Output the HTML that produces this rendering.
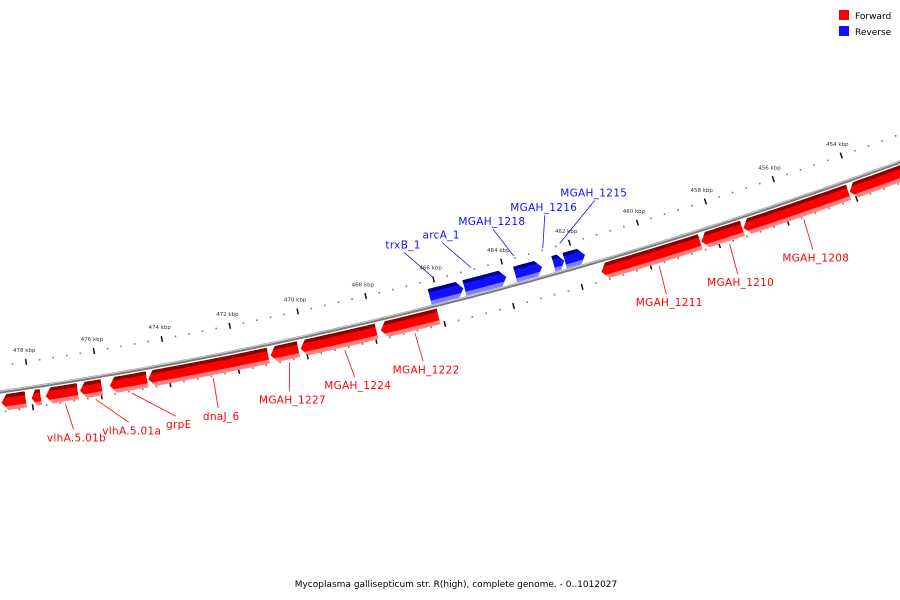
<!DOCTYPE html>
<html><head><meta charset="utf-8"><style>
body{margin:0;background:#fff;}
svg{display:block;font-family:"DejaVu Sans","Liberation Sans",sans-serif;}
</style></head><body>
<svg id="map" width="900" height="600" viewBox="0 0 900 600" xmlns="http://www.w3.org/2000/svg">
<rect width="900" height="600" fill="#fff"/>
<g id="ticks"></g>
<g id="backbone"></g>
<g id="genes"></g>
<g id="labels"></g>
<g>
<rect x="839" y="10" width="10" height="10" fill="#ff0000"/>
<text x="855" y="19" font-size="9" fill="#000">Forward</text>
<rect x="839" y="26" width="10" height="10" fill="#1010ff"/>
<text x="855" y="35" font-size="9" fill="#000">Reverse</text>
</g>
<text x="456" y="587" font-size="9" text-anchor="middle" fill="#000">Mycoplasma gallisepticum str. R(high), complete genome. - 0..1012027</text>
</svg>
<script>
const geneNames=["g1","g2","vlhA.5.01b","vlhA.5.01a","grpE","dnaJ_6","MGAH_1227","MGAH_1224","MGAH_1222","MGAH_1211","MGAH_1210","MGAH_1208","g13","trxB_1","arcA_1","MGAH_1218","MGAH_1216","MGAH_1215"];
const geneStart=[478.88,478.00,477.59,476.59,475.72,474.60,471.03,470.15,467.81,461.37,458.45,457.22,454.12,466.23,465.21,463.72,462.60,462.27];
const geneEnd=[478.17,477.73,476.65,475.95,474.63,471.09,470.21,467.93,466.12,458.48,457.25,454.15,452.54,465.24,463.98,462.93,462.28,461.67];
const geneStrand=["F","F","F","F","F","F","F","F","F","F","F","F","F","R","R","R","R","R"];
const labelTexts=["vlhA.5.01b","vlhA.5.01a","grpE","dnaJ_6","MGAH_1227","MGAH_1224","MGAH_1222","MGAH_1211","MGAH_1210","MGAH_1208","trxB_1","arcA_1","MGAH_1218","MGAH_1216","MGAH_1215"];
const labelAnchorKbp=[477.06,476.18,475.13,472.76,470.54,468.93,466.88,459.77,457.72,455.56,466.00,464.88,463.62,462.77,462.27];
const tickLabels=[454,456,458,460,462,464,466,468,470,472,474,476,478];

const NS="http://www.w3.org/2000/svg";
function X(k){return 850-(k-454)*34.17;}
function F(x){return 392-0.1444*x-0.0001235*x*x;}
function S(x){return -0.1444-0.000247*x;}
function P(k,d){const x=X(k),s=S(x),n=Math.sqrt(1+s*s);return [x+(-s)*d/n,F(x)+d/n];}
function PX(x,d){const s=S(x),n=Math.sqrt(1+s*s);return [x+(-s)*d/n,F(x)+d/n];}
function mk(tag,attrs,parent){const e=document.createElementNS(NS,tag);for(const k in attrs)e.setAttribute(k,attrs[k]);parent.appendChild(e);return e;}
function pts(a){return a.map(p=>p[0].toFixed(1)+","+p[1].toFixed(1)).join(" ");}

// backbone
const bb=document.getElementById('backbone');
let dpath="";for(let x=-10;x<=910;x+=10){dpath+=(x==-10?"M":"L")+x+","+F(x).toFixed(1);}
let bl=mk('path',{d:dpath,stroke:'#7a7a7a','stroke-width':3.2,fill:'none'},bb);


let bh=mk('path',{d:dpath,stroke:'#d0d0d0','stroke-width':1,fill:'none',transform:'translate(0,-0.8)'},bb);



// ticks
const tg=document.getElementById('ticks');
for(let i=0;i<=70;i++){
  const k=452.4+i*0.4;
  const major=Math.abs(k/2-Math.round(k/2))<0.01;
  [-26,20].forEach(off=>{
    if(major){
      const a=P(k,off-3),b=P(k,off+3);
      const t=mk('line',{x1:a[0],y1:a[1],x2:b[0],y2:b[1],stroke:'#111','stroke-width':1.5},tg);
      
      
    }else{
      const a=P(k,off);
      const t=mk('rect',{x:a[0]-0.8,y:a[1]-0.8,width:1.6,height:1.6,fill:'#777'},tg);
      
      
    }
  });
}
tickLabels.forEach(v=>{
  const a=P(v,-38);
  const t=mk('text',{x:a[0],y:a[1]+2,'font-size':5.5,'text-anchor':'middle',fill:'#333'},tg);
  t.textContent=v+" kbp";
  
  
});

// genes
const gg=document.getElementById('genes');
const defs=mk('defs',{},gg);
function edge(k1,k2,d){const a=[];const x1=X(k1),x2=X(k2);const n=Math.max(2,Math.ceil(Math.abs(x2-x1)/8));for(let i=0;i<=n;i++){a.push(PX(x1+(x2-x1)*i/n,d));}return a;}
function kx(k,dx){return 454+(850-(X(k)+dx))/34.17;}
geneNames.forEach((nm,i)=>{
  const fwd=geneStrand[i]==="F";
  const kL=Math.max(geneStart[i],geneEnd[i]), kR=Math.min(geneStart[i],geneEnd[i]);
  const top=fwd?3:-18, bot=fwd?19:-2, mid=(top+bot)/2;
  const tip=Math.min(6,(X(kR)-X(kL))*0.5);
  let poly;
  if(fwd){
    const kb=kx(kL,tip);
    poly=[PX(X(kL),mid)].concat(edge(kb,kR,top)).concat(edge(kR,kb,bot));
  }else{
    const kb=kx(kR,-tip);
    poly=edge(kL,kb,top).concat([PX(X(kR),mid)]).concat(edge(kb,kL,bot));
  }
  const main=fwd?'#ff0000':'#1010ff', dark=fwd?'#8a0000':'#00008a', light=fwd?'#ff8080':'#8080ff';
  const cid='clip'+i;
  const cp=mk('clipPath',{id:cid},defs);
  mk('polygon',{points:pts(poly)},cp);
  const g=mk('g',{'clip-path':'url(#'+cid+')'},gg);
  
  
  mk('polygon',{points:pts(poly),fill:main},g);
  const bandTop=edge(kL+0.3,kR-0.3,top-2).concat(edge(kR-0.3,kL+0.3,top+3.5));
  mk('polygon',{points:pts(bandTop),fill:dark},g);
  const bandBot=edge(kL+0.3,kR-0.3,bot-4).concat(edge(kR-0.3,kL+0.3,bot+2));
  mk('polygon',{points:pts(bandBot),fill:light},g);
});

// labels
const lg=document.getElementById('labels');
const labelDx=[8,33,44,5,0,10,8,7,8,9,-29,-29,-21,2,35];
const labelDy=[25,23,23,30,29,27,28,28,30,30,-25,-25,-27,-33,-43];
labelTexts.forEach((t,i)=>{
  const fwd=i<10;
  const a=P(labelAnchorKbp[i],fwd?22:-28);
  const ex=a[0]+labelDx[i], ey=a[1]+labelDy[i];
  const col=fwd?'#ff0000':'#1010ff';
  const ln=mk('line',{x1:a[0],y1:a[1],x2:ex,y2:ey,stroke:col,'stroke-width':0.8},lg);
  
  
  const tx=mk('text',{x:ex+(fwd?3:-1),y:fwd?ey+12:ey-4,'font-size':10.5,'text-anchor':'middle',fill:col,'letter-spacing':'0.3'},lg);
  tx.textContent=t;
  
  
});
</script>
</body></html>
